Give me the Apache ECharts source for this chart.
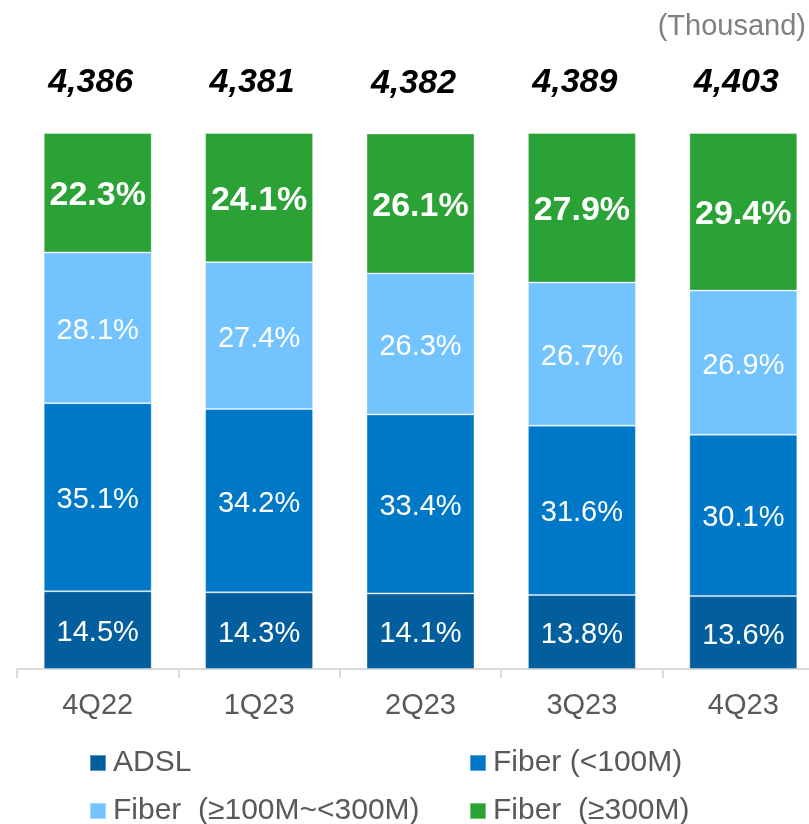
<!DOCTYPE html>
<html>
<head>
<meta charset="utf-8">
<script src="https://cdn.jsdelivr.net/npm/echarts@6/dist/echarts.min.js"></script>
<style>
  html, body { margin: 0; padding: 0; background: #fff; }
  #chart { width: 809px; height: 824px; }
</style>
</head>
<body>
<div id="chart"></div>
<script>
// data
const quarters = ["4Q22", "1Q23", "2Q23", "3Q23", "4Q23"];
const totals = ["4,386", "4,381", "4,382", "4,389", "4,403"];
const adsl = [14.5, 14.3, 14.1, 13.8, 13.6];
const fiberLow = [35.1, 34.2, 33.4, 31.6, 30.1];
const fiberMid = [28.1, 27.4, 26.3, 26.7, 26.9];
const fiberHigh = [22.3, 24.1, 26.1, 27.9, 29.4];

const names = ["ADSL", "Fiber (<100M)", "Fiber  (≥100M~<300M)", "Fiber  (≥300M)"];
const colors = ["#035e9e", "#0078c8", "#72c3fe", "#2aa236"];

const chart = echarts.init(document.getElementById("chart"));

const FONT = "Liberation Sans, Arial, sans-serif";

const pctLabel = (bold) => ({
    show: true,
    position: "inside",
    offset: [0, 3],
    color: "#fff",
    fontFamily: FONT,
    fontSize: bold ? 34 : 29,
    fontWeight: bold ? "bold" : "normal",
    formatter: p => p.value.toFixed(1) + "%"
});

const makeSeries = (name, data, color, bold) => ({
    name: name,
    type: "bar",
    stack: "share",
    barWidth: 108,
    data: data,
    itemStyle: { color: color, borderColor: "rgba(255,255,255,0.35)", borderWidth: 1 },
    label: pctLabel(bold),
    emphasis: { disabled: true }
});

// one legend per item so they sit in a 2x2 grid
const legendPos = [[89, 748], [469, 748], [89, 796], [469, 796]];
const legends = names.map((n, i) => ({
    left: legendPos[i][0],
    top: legendPos[i][1],
    padding: 0,
    itemWidth: 16,
    itemHeight: 16,
    icon: "rect",
    selectedMode: false,
    data: [n],
    textStyle: { color: "#595959", fontSize: 30, fontFamily: FONT, lineHeight: 30, padding: [0, 0, 0, 2] }
}));

const option = {
    animation: false,
    title: {
        text: "(Thousand)",
        right: 3,
        top: 12,
        padding: 0,
        textStyle: { color: "#808080", fontSize: 29, fontWeight: "normal", fontFamily: FONT }
    },
    legend: legends,
    grid: { left: 17, width: 807, top: 133, bottom: 155, outerBoundsMode: "none" },
    xAxis: {
        type: "category",
        data: quarters,
        axisLine: { lineStyle: { color: "#d9d9d9", width: 2 } },
        axisTick: { show: true, length: 9, lineStyle: { color: "#d9d9d9", width: 2 } },
        axisLabel: { color: "#595959", fontSize: 29, fontFamily: FONT, margin: 22 }
    },
    yAxis: {
        type: "value",
        min: 0, max: 100,
        show: false,
        splitLine: { show: false }
    },
    series: [
        makeSeries(names[0], adsl, colors[0], false),
        makeSeries(names[1], fiberLow, colors[1], false),
        makeSeries(names[2], fiberMid, colors[2], false),
        makeSeries(names[3], fiberHigh, colors[3], true),
        {
            name: "total",
            type: "bar",
            stack: "share",
            barWidth: 108,
            data: quarters.map(() => 0),
            itemStyle: { color: "transparent" },
            label: {
                show: true,
                position: "top",
                distance: 33,
                offset: [-7, 0],
                color: "#000",
                fontFamily: FONT,
                fontSize: 34,
                fontWeight: "bold",
                fontStyle: "italic",
                formatter: p => totals[p.dataIndex]
            },
            emphasis: { disabled: true }
        }
    ]
};

chart.setOption(option);
</script>
</body>
</html>
